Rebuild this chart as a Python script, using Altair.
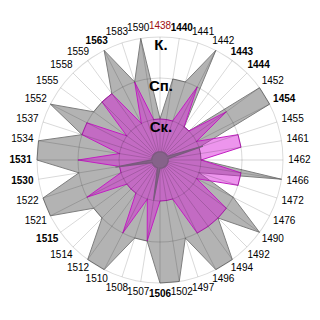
import altair as alt
import pandas as pd

# ---- data ----
years = ["1438", "1440", "1441", "1442", "1443", "1444", "1452", "1454", "1455", "1461",
         "1462", "1466", "1472", "1476", "1490", "1492", "1494", "1496", "1497", "1502",
         "1506", "1507", "1508", "1510", "1512", "1514", "1515", "1521", "1522", "1530",
         "1531", "1534", "1537", "1552", "1555", "1558", "1559", "1563", "1583", "1590"]
gray_vals = [1, 2, 2, 3, 1, 1, 3, 3, 1, 1,
             1, 3, 1, 2, 3, 2, 3, 3, 2, 3,
             3, 2, 2, 3, 3, 2, 2, 3, 3, 2,
             3, 3, 2, 3, 2, 2, 2, 3, 2, 3]
pink_vals = [1, 1, 1, 2, 1, 1, 2, 1, 2, 2,
             1, 2, 2, 1, 2, 2, 2, 2, 1, 1,
             1, 2, 1, 2, 1, 1, 1, 2, 1, 1,
             2, 1, 2, 2, 1, 2, 2, 1, 2, 1]
dark_vals = [0.2, 0.2, 0.2, 0.2, 0.2, 0.2, 0.2, 0.2, 1.1, 0.2,
             0.2, 0.2, 0.2, 0.2, 0.2, 0.2, 0.2, 0.2, 0.2, 0.2,
             0.2, 1.0, 0.2, 0.2, 0.2, 0.2, 0.2, 0.2, 0.2, 1.1,
             0.2, 0.2, 0.2, 0.2, 0.2, 0.2, 0.2, 0.2, 0.2, 0.2]
bold_years = ["1440", "1443", "1444", "1454", "1506", "1515", "1530", "1531", "1563"]
red_years = ["1438"]
level_names = ["Ск.", "Сп.", "К."]
level_vals = [1, 2, 3]

N = len(years)
D = 160 / 41.0  # half-extent of the plot in value units

def series_frame(vals):
    rows = [{"idx": i, "value": v} for i, v in enumerate(vals)]
    rows.append({"idx": N, "value": vals[0]})
    return pd.DataFrame(rows)

ang = f"datum.idx * 2 * PI / {N}"
xs = alt.Scale(domain=[-D, D], nice=False, zero=False)
ys = alt.Scale(domain=[-D, D], nice=False, zero=False)

def radar(vals, **mk):
    return (alt.Chart(series_frame(vals))
            .transform_calculate(px=f"datum.value * sin({ang})", py=f"datum.value * cos({ang})")
            .mark_line(interpolate="linear", **mk)
            .encode(x=alt.X("px:Q", scale=xs, axis=None),
                    y=alt.Y("py:Q", scale=ys, axis=None),
                    order="idx:Q"))

gray = radar(gray_vals, fill="#b3b3b3", stroke="#7f7f7f", strokeWidth=1)
pink = radar(pink_vals, fill="#d614d6", fillOpacity=0.45, stroke="#c21fc2", strokeWidth=1)
dark = radar(dark_vals, fill="#86638a", stroke="#7a5a7e", strokeWidth=1.3)

spokes_df = pd.DataFrame({"idx": list(range(N))})
spokes = (alt.Chart(spokes_df)
          .transform_calculate(x0="0", y0="0",
                               x1=f"3 * sin({ang})", y1=f"3 * cos({ang})")
          .mark_rule(color="black", strokeOpacity=0.15, strokeWidth=1)
          .encode(x=alt.X("x0:Q", scale=xs, axis=None), y=alt.Y("y0:Q", scale=ys, axis=None),
                  x2="x1:Q", y2="y1:Q"))

rings_df = pd.DataFrame({"level": level_vals})
rings = (alt.Chart(rings_df)
         .transform_calculate(ro=f"datum.level + 0.5/41", ri=f"datum.level - 0.5/41")
         .mark_arc(color="black", fillOpacity=0.15)
         .encode(radius=alt.Radius("ro:Q", scale=alt.Scale(type="linear", domain=[0, D], range=[0, 160], zero=True)),
                 radius2="ri:Q",
                 theta=alt.value(0), theta2=alt.value(6.2832)))

lab_df = pd.DataFrame({"idx": list(range(N)), "year": years})
lab_base = (alt.Chart(lab_df)
            .transform_calculate(lx=f"3.40 * sin({ang})", ly=f"3.27 * cos({ang})"))
lab_enc = dict(x=alt.X("lx:Q", scale=xs, axis=None), y=alt.Y("ly:Q", scale=ys, axis=None),
               text="year:N",
               color=alt.condition(alt.FieldOneOfPredicate(field="year", oneOf=red_years),
                                   alt.value("#a01010"), alt.value("black")))
font = "Liberation Sans Narrow, Liberation Sans, Arial, sans-serif"
labels_n = (lab_base.transform_filter(~alt.FieldOneOfPredicate(field="year", oneOf=bold_years))
            .mark_text(font=font, fontSize=10, align="center", baseline="middle")
            .encode(**lab_enc))
labels_b = (lab_base.transform_filter(alt.FieldOneOfPredicate(field="year", oneOf=bold_years))
            .mark_text(font=font, fontSize=10, fontWeight="bold", align="center", baseline="middle")
            .encode(**lab_enc))

lev_df = pd.DataFrame({"level": level_vals, "name": level_names})
lev_labels = (alt.Chart(lev_df)
              .transform_calculate(x0="0")
              .mark_text(font=font, fontSize=15, fontWeight="bold", align="center",
                         baseline="middle", dy=8, dx=1, color="black")
              .encode(x=alt.X("x0:Q", scale=xs, axis=None), y=alt.Y("level:Q", scale=ys, axis=None),
                      text="name:N"))

chart = (alt.layer(gray, pink, spokes, rings, dark, lev_labels, labels_n, labels_b)
         .properties(width=320, height=320, padding=0, autosize=alt.AutoSizeParams(type="none"),
                     background="white")
         .configure_view(stroke=None))

chart.save("out.html", embed_options={"renderer": "svg", "actions": False})
